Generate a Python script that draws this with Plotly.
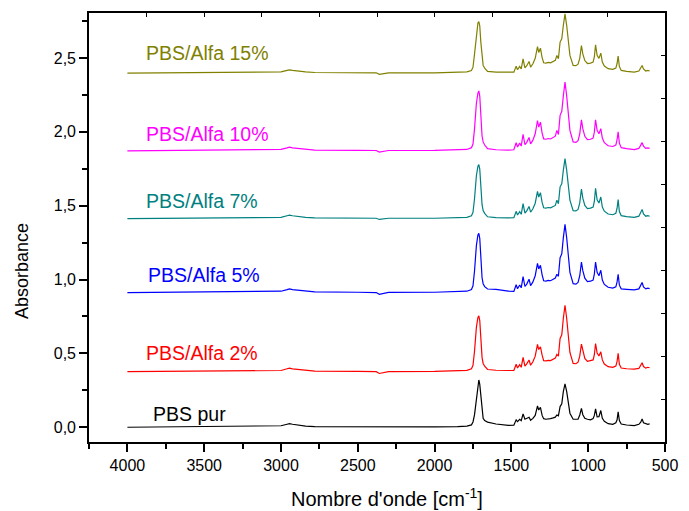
import plotly.graph_objects as go

# Wavenumber grid (cm-1) shared by all spectra
wavenumber = [4000, 3700, 3400, 3100, 3000, 2960, 2945, 2925, 2880, 2860,
              2840, 2780, 2500, 2380, 2360, 2340, 2300, 2000, 1850, 1790,
              1760, 1750, 1740, 1728, 1718, 1712, 1706, 1699, 1691, 1684,
              1674, 1655, 1600, 1520, 1484, 1469, 1460, 1446, 1436, 1424,
              1412, 1400, 1385, 1375, 1360, 1345, 1330, 1322, 1311, 1300,
              1290, 1275, 1260, 1245, 1228, 1214, 1204, 1194, 1183, 1172,
              1162, 1151, 1140, 1130, 1119, 1098, 1080, 1066, 1055, 1044,
              1035, 1022, 1005, 985, 968, 960, 952, 942, 930, 918,
              908, 895, 870, 840, 820, 812, 805, 797, 785, 750,
              700, 670, 658, 649, 640, 625, 612, 600]

# Absorbance of each sample (before vertical stacking)
pbs_pur = [0.000, 0.002, 0.006, 0.006, 0.010, 0.020, 0.024, 0.020, 0.013, 0.015,
           0.008, 0.004, 0.003, 0.002, 0.000, 0.001, 0.002, 0.002, 0.004, 0.008,
           0.016, 0.036, 0.085, 0.200, 0.290, 0.320, 0.290, 0.200, 0.100, 0.061,
           0.045, 0.035, 0.022, 0.012, 0.014, 0.050, 0.038, 0.054, 0.045, 0.090,
           0.054, 0.061, 0.068, 0.047, 0.060, 0.080, 0.144, 0.117, 0.135, 0.080,
           0.058, 0.054, 0.054, 0.058, 0.063, 0.068, 0.083, 0.077, 0.140, 0.158,
           0.241, 0.293, 0.241, 0.151, 0.095, 0.054, 0.052, 0.054, 0.083, 0.128,
           0.085, 0.060, 0.054, 0.050, 0.058, 0.080, 0.124, 0.070, 0.072, 0.113,
           0.060, 0.040, 0.024, 0.020, 0.030, 0.050, 0.104, 0.045, 0.022, 0.015,
           0.011, 0.020, 0.034, 0.056, 0.030, 0.022, 0.020, 0.023]

pbs_alfa2 = [0.000, 0.002, 0.004, 0.004, 0.008, 0.020, 0.024, 0.019, 0.013, 0.015,
             0.008, 0.004, 0.002, 0.000, -0.012, -0.006, 0.001, 0.002, 0.005, 0.009,
             0.020, 0.043, 0.140, 0.300, 0.368, 0.378, 0.346, 0.227, 0.097, 0.056,
             0.037, 0.015, 0.010, 0.008, 0.009, 0.050, 0.025, 0.048, 0.030, 0.097,
             0.038, 0.053, 0.079, 0.044, 0.067, 0.105, 0.185, 0.150, 0.169, 0.112,
             0.075, 0.073, 0.077, 0.075, 0.085, 0.092, 0.117, 0.105, 0.225, 0.250,
             0.360, 0.450, 0.360, 0.226, 0.130, 0.056, 0.054, 0.064, 0.105, 0.187,
             0.137, 0.090, 0.070, 0.073, 0.080, 0.115, 0.191, 0.127, 0.107, 0.135,
             0.080, 0.052, 0.034, 0.030, 0.038, 0.070, 0.124, 0.050, 0.025, 0.020,
             0.017, 0.022, 0.044, 0.061, 0.035, 0.024, 0.030, 0.027]

pbs_alfa5 = [0.000, 0.002, 0.005, 0.005, 0.009, 0.020, 0.025, 0.020, 0.014, 0.016,
             0.009, 0.005, 0.002, 0.000, -0.012, -0.006, 0.001, 0.002, 0.005, 0.009,
             0.021, 0.046, 0.148, 0.318, 0.390, 0.401, 0.367, 0.240, 0.100, 0.060,
             0.040, 0.024, 0.022, 0.010, 0.008, 0.053, 0.026, 0.051, 0.032, 0.108,
             0.041, 0.057, 0.090, 0.047, 0.072, 0.114, 0.198, 0.160, 0.185, 0.120,
             0.080, 0.078, 0.082, 0.080, 0.091, 0.098, 0.124, 0.110, 0.236, 0.262,
             0.370, 0.462, 0.370, 0.240, 0.137, 0.060, 0.057, 0.068, 0.114, 0.207,
             0.148, 0.097, 0.074, 0.077, 0.085, 0.125, 0.207, 0.137, 0.114, 0.151,
             0.085, 0.055, 0.036, 0.030, 0.039, 0.072, 0.124, 0.050, 0.025, 0.022,
             0.018, 0.025, 0.048, 0.068, 0.038, 0.025, 0.030, 0.027]

pbs_alfa7 = [0.000, 0.002, 0.004, 0.004, 0.008, 0.019, 0.023, 0.019, 0.012, 0.014,
             0.008, 0.004, 0.003, 0.002, -0.006, -0.003, 0.002, 0.002, 0.004, 0.008,
             0.019, 0.042, 0.136, 0.290, 0.355, 0.365, 0.335, 0.220, 0.094, 0.054,
             0.035, 0.012, 0.006, 0.004, 0.006, 0.049, 0.024, 0.047, 0.029, 0.101,
             0.037, 0.052, 0.082, 0.043, 0.066, 0.104, 0.184, 0.146, 0.175, 0.109,
             0.073, 0.071, 0.075, 0.073, 0.083, 0.089, 0.125, 0.100, 0.215, 0.236,
             0.326, 0.406, 0.326, 0.215, 0.125, 0.054, 0.052, 0.062, 0.106, 0.200,
             0.138, 0.089, 0.068, 0.071, 0.078, 0.116, 0.205, 0.127, 0.105, 0.146,
             0.078, 0.050, 0.031, 0.026, 0.036, 0.070, 0.128, 0.048, 0.020, 0.013,
             0.008, 0.016, 0.040, 0.061, 0.032, 0.016, 0.020, 0.016]

pbs_alfa10 = [0.000, 0.002, 0.005, 0.005, 0.009, 0.020, 0.025, 0.020, 0.014, 0.016,
              0.009, 0.005, 0.003, 0.002, -0.009, -0.005, 0.002, 0.003, 0.005, 0.009,
              0.021, 0.046, 0.150, 0.320, 0.390, 0.405, 0.370, 0.240, 0.100, 0.060,
              0.039, 0.014, 0.007, 0.005, 0.007, 0.054, 0.026, 0.052, 0.032, 0.112,
              0.041, 0.057, 0.090, 0.047, 0.072, 0.115, 0.205, 0.160, 0.194, 0.120,
              0.080, 0.078, 0.083, 0.080, 0.092, 0.099, 0.138, 0.110, 0.240, 0.267,
              0.370, 0.466, 0.370, 0.240, 0.138, 0.060, 0.057, 0.069, 0.115, 0.210,
              0.150, 0.098, 0.075, 0.078, 0.086, 0.126, 0.210, 0.138, 0.115, 0.150,
              0.086, 0.055, 0.034, 0.029, 0.039, 0.075, 0.128, 0.052, 0.021, 0.014,
              0.008, 0.016, 0.038, 0.055, 0.032, 0.016, 0.020, 0.016]

pbs_alfa15 = [0.000, 0.002, 0.004, 0.004, 0.008, 0.018, 0.022, 0.018, 0.012, 0.014,
              0.008, 0.004, 0.003, 0.002, -0.008, -0.004, 0.002, 0.002, 0.004, 0.008,
              0.018, 0.040, 0.130, 0.277, 0.340, 0.349, 0.320, 0.210, 0.090, 0.052,
              0.034, 0.012, 0.006, 0.004, 0.006, 0.047, 0.023, 0.045, 0.028, 0.097,
              0.036, 0.050, 0.079, 0.041, 0.063, 0.100, 0.180, 0.140, 0.169, 0.105,
              0.070, 0.068, 0.072, 0.070, 0.080, 0.086, 0.120, 0.097, 0.210, 0.232,
              0.322, 0.401, 0.322, 0.210, 0.120, 0.052, 0.050, 0.060, 0.100, 0.187,
              0.130, 0.085, 0.065, 0.068, 0.075, 0.110, 0.191, 0.120, 0.100, 0.135,
              0.075, 0.048, 0.030, 0.025, 0.034, 0.065, 0.115, 0.045, 0.018, 0.012,
              0.007, 0.014, 0.034, 0.052, 0.028, 0.014, 0.018, 0.014]

sample_names = ["PBS pur", "PBS/Alfa 2%", "PBS/Alfa 5%", "PBS/Alfa 7%",
                "PBS/Alfa 10%", "PBS/Alfa 15%"]
stack_offsets = [0.0, 0.376, 0.912, 1.413, 1.872, 2.398]
line_colors = ["#000000", "#ff0000", "#0000ff", "#008080", "#ff00ff", "#808000"]
# label anchor (wavenumber of left edge, absorbance of text centre)
label_wn = [3844, 3893, 3880, 3893, 3893, 3893]
label_abs = [0.092, 0.503, 1.030, 1.531, 1.988, 2.535]

x_ticks = [4000, 3500, 3000, 2500, 2000, 1500, 1000, 500]
y_ticks = [0.0, 0.5, 1.0, 1.5, 2.0, 2.5]

spectra = [pbs_pur, pbs_alfa2, pbs_alfa5, pbs_alfa7, pbs_alfa10, pbs_alfa15]
for s in spectra:
    assert len(s) == len(wavenumber)

FONT = "Arial, Liberation Sans, sans-serif"

fig = go.Figure()
for name, vals, off, col in zip(sample_names, spectra, stack_offsets, line_colors):
    fig.add_trace(go.Scatter(
        x=wavenumber, y=[v + off for v in vals], mode="lines", name=name,
        line=dict(color=col, width=1.2), showlegend=False, hoverinfo="skip"))

# carrier for the opposite (top / right) frame axes
fig.add_trace(go.Scatter(x=[], y=[], xaxis="x2", yaxis="y2",
                         showlegend=False, hoverinfo="skip"))

for name, wx, ay, col in zip(sample_names, label_wn, label_abs, line_colors):
    fig.add_annotation(x=wx, y=ay, xref="x", yref="y", text=name,
                       showarrow=False, xanchor="left", yanchor="middle",
                       font=dict(family=FONT, size=19.5, color=col))

fig.add_annotation(x=0.518, y=-0.1305, xref="paper", yref="paper",
                   text="Nombre d'onde [cm<sup>-1</sup>]", showarrow=False,
                   xanchor="center", yanchor="middle",
                   font=dict(family=FONT, size=20, color="black"))
fig.add_annotation(x=-0.116, y=0.399, xref="paper", yref="paper",
                   text="Absorbance", showarrow=False, textangle=-90,
                   xanchor="center", yanchor="middle",
                   font=dict(family=FONT, size=18, color="black"))

fig.update_layout(
    width=689, height=511,
    margin=dict(l=89, r=14, t=11, b=69),
    paper_bgcolor="white", plot_bgcolor="white",
    separators=",.",
    font=dict(family=FONT, size=16, color="black"),
    xaxis=dict(range=[4250, 500], tickvals=x_ticks, ticks="outside",
               ticklen=8, tickwidth=1.5, tickcolor="black",
               showline=True, linewidth=1.6, linecolor="black", mirror=True,
               showgrid=False, zeroline=False,
               tickfont=dict(family=FONT, size=16, color="black"),
               minor=dict(dtick=250, tick0=500, ticks="outside", ticklen=5,
                          tickwidth=1.5, tickcolor="black", showgrid=False)),
    yaxis=dict(range=[-0.1, 2.805], tickvals=y_ticks, tickformat=".1f",
               ticks="outside", ticklen=8, tickwidth=1.5, tickcolor="black",
               showline=True, linewidth=1.6, linecolor="black", mirror=True,
               showgrid=False, zeroline=False,
               tickfont=dict(family=FONT, size=16, color="black"),
               minor=dict(dtick=0.25, tick0=0, ticks="outside", ticklen=5,
                          tickwidth=1.5, tickcolor="black", showgrid=False)),
    xaxis2=dict(overlaying="x", side="top", anchor="y2", range=[0, 10],
                dtick=1, ticks="inside", ticklen=4, tickwidth=1.3,
                tickcolor="black", showticklabels=False, showgrid=False,
                zeroline=False, showline=False),
    yaxis2=dict(overlaying="y", side="right", anchor="x2", range=[0, 10],
                dtick=1, ticks="inside", ticklen=4, tickwidth=1.3,
                tickcolor="black", showticklabels=False, showgrid=False,
                zeroline=False, showline=False),
)

fig.write_html("out.html")
